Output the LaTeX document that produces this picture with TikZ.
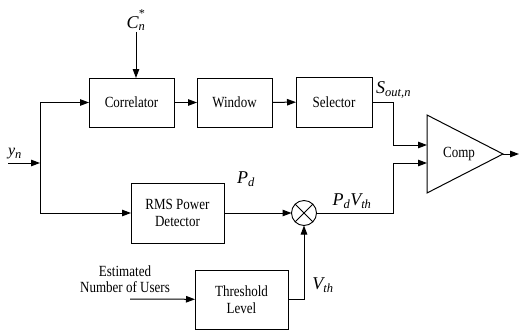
\documentclass[tikz,border=0pt]{standalone}
\usepackage{fontspec}
\setmainfont{Liberation Serif}[FakeStretch=0.84]
\newfontfamily\lblfont{Liberation Serif}
\usetikzlibrary{arrows.meta, calc}
\tikzset{
    blk/.style={rectangle, draw, line width=0.9pt, align=center, inner sep=2pt, outer sep=0pt, font=\fontsize{15.5}{17}\selectfont},
    sig/.style={font=\lblfont\fontsize{18}{20}\selectfont\itshape, inner sep=1pt},
    txt/.style={align=center, inner sep=1pt, font=\fontsize{15.5}{15.5}\selectfont},
    wire/.style={line width=1pt},
    arr/.style={wire, -{Triangle[length=9pt, width=6.5pt]}},
}
\newcommand{\lowsub}[1]{\textsubscript{\fontsize{12.5}{13}\selectfont #1}}

\begin{document}
\begin{tikzpicture}[x=1pt, y=-1pt]
    \useasboundingbox (0,0) rectangle (521,332);
    % Blocks
    \node[blk, minimum width=85pt, minimum height=49pt] (corr) at (131.5,102.5) {Correlator};
    \node[blk, minimum width=75pt, minimum height=49pt] (win) at (234.5,102.5) {Window};
    \node[blk, minimum width=76pt, minimum height=50pt] (sel) at (334,102) {Selector};
    \node[blk, minimum width=93pt, minimum height=60pt] (rms) at (177.5,213) {RMS Power\\Detector};
    \node[blk, minimum width=93pt, minimum height=59pt] (thr) at (241.5,299.5) {Threshold\\Level};
    \node[circle, draw, line width=0.9pt, minimum size=25pt, inner sep=0pt, outer sep=0pt] (mult) at (304,213) {};
    \draw[wire] (mult.north west) -- (mult.south east) (mult.north east) -- (mult.south west);

    % Comparator
    \coordinate (cin1) at (427,145);
    \coordinate (cin2) at (427,163);
    \coordinate (cout) at (503,154);
    \coordinate (out) at (519,154);
    \draw[wire] (427,115) -- (cout) -- (427,193) -- cycle;
    \node[txt] (comp) at (459,154) {Comp};

    % Labels
    \node[sig] (cn) at (136,20) {C\lowsub{n}\llap{\raisebox{1.3ex}{\fontsize{12}{12}\selectfont*}\hspace{1pt}}};
    \node[sig, font=\lblfont\fontsize{16}{17}\selectfont\itshape] (yn) at (15,154) {y\lowsub{n}};
    \node[sig, anchor=west] (sout) at (375,90) {S\lowsub{out,n}};
    \node[sig] (pd) at (246,179) {P\lowsub{d}};
    \node[sig] (pdvth) at (352,201) {P\lowsub{d}V\lowsub{th}};
    \node[sig] (vth) at (323,285) {V\lowsub{th}};
    \node[txt] (est) at (125,279) {Estimated\\Number of Users};

    % Connectors
    \coordinate (yin) at (8,163);
    \coordinate (split) at (40,163);
    \coordinate (estin) at (130,299);
    \draw[arr] (yin) -- (split);
    \draw[arr] (split) |- (corr);
    \draw[arr] (split) |- (rms);
    \draw[arr] (cn.south) -- (cn.south |- corr.north);
    \draw[arr] (corr) -- (win);
    \draw[arr] (win) -- (sel);
    \draw[arr] (sel.east) -| ([xshift=-34pt]cin1) -- (cin1);
    \draw[arr] (rms) -- (mult);
    \draw[arr] (mult) -| ([xshift=-34pt]cin2) -- (cin2);
    \draw[arr] (thr.east) -| (mult.south);
    \draw[arr] (estin) -- (thr);
    \draw[arr] (cout) -- (out);
\end{tikzpicture}
\end{document}
